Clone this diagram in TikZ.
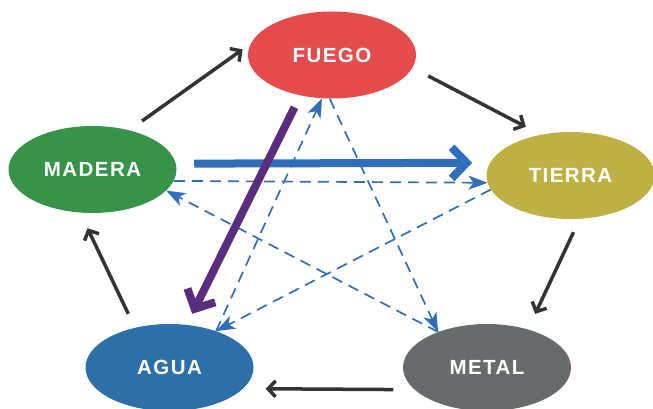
\documentclass[tikz,border=0pt]{standalone}
\usepackage{fontspec}
\usepackage{tikz}
\usetikzlibrary{shapes.geometric,arrows.meta}
\newfontfamily\elemfont[LetterSpace=7]{Liberation Sans}

\definecolor{fuegored}{HTML}{E64B4B}
\definecolor{maderagreen}{HTML}{37934A}
\definecolor{tierraolive}{HTML}{BFB043}
\definecolor{aguablue}{HTML}{2D6FA7}
\definecolor{metalgray}{HTML}{686B6C}
\definecolor{arrowdark}{HTML}{333333}
\definecolor{arrowblue}{HTML}{2F6EBA}
\definecolor{arrowpurple}{HTML}{5B2D7E}

\begin{document}
\begin{tikzpicture}[x=1pt, y=-1pt,
        element/.style={ellipse, minimum width=168pt, minimum height=87pt, inner sep=0pt,
            text=white, font=\elemfont\bfseries\fontsize{20.5}{21}\selectfont},
        feeds/.style={arrowdark, line width=3.5pt, -{Straight Barb[length=7.5pt, width=16pt]}},
        restrains/.style={arrowblue, line width=1.7pt, dash pattern=on 11pt off 7pt,
            -{Stealth[length=19pt, width=14pt, inset=5pt]}},
        overacts/.style={line width=8pt, -{Straight Barb[length=15pt, width=31pt, sharp]}}]

        \useasboundingbox (0,0) rectangle (653,408);

        % Elements
        \node[element, fill=fuegored] (fuego) at (332,55) {FUEGO};
        \node[element, fill=maderagreen] (madera) at (92.5,169.5) {MADERA};
        \node[element, fill=tierraolive] (tierra) at (570.5,175.5) {TIERRA};
        \node[element, fill=aguablue] (agua) at (169.5,367.5) {AGUA};
        \node[element, fill=metalgray] (metal) at (487,367.5) {METAL};

        % Outer cycle
        \draw[feeds, shorten <=15.8pt, shorten >=10pt] (madera.47) -- (fuego.172);
        \draw[feeds, shorten <=17.7pt, shorten >=16.9pt] (fuego.-9) -- (tierra.126);
        \draw[feeds, shorten <=14.6pt, shorten >=17.1pt] (tierra.-78.6) -- (metal.43);
        \draw[feeds, shorten <=21pt, shorten >=22.5pt] (metal.-163.6) -- (agua.-16.4);
        \draw[feeds, shorten <=15.4pt, shorten >=17.2pt] (agua.131.3) -- (madera.-106.8);

        % Star (dashed)
        \draw[restrains] (madera.-8.8) -- (tierra.-175.5);
        \draw[restrains] (tierra.-170) -- (agua.38);
        \draw[restrains] (agua.38) -- (fuego.-103);
        \draw[restrains] (fuego.-93) -- (metal.144);
        \draw[restrains] (metal.144) -- (madera.-16.2);

        % Thick arrows
        \draw[overacts, arrowblue, shorten <=18.3pt, shorten >=17.8pt] (madera.4.1) -- (tierra.171.5);
        \draw[overacts, arrowpurple, shorten <=13.2pt, shorten >=12.2pt] (fuego.-128.7) -- (agua.68.1);

    \end{tikzpicture}
\end{document}
